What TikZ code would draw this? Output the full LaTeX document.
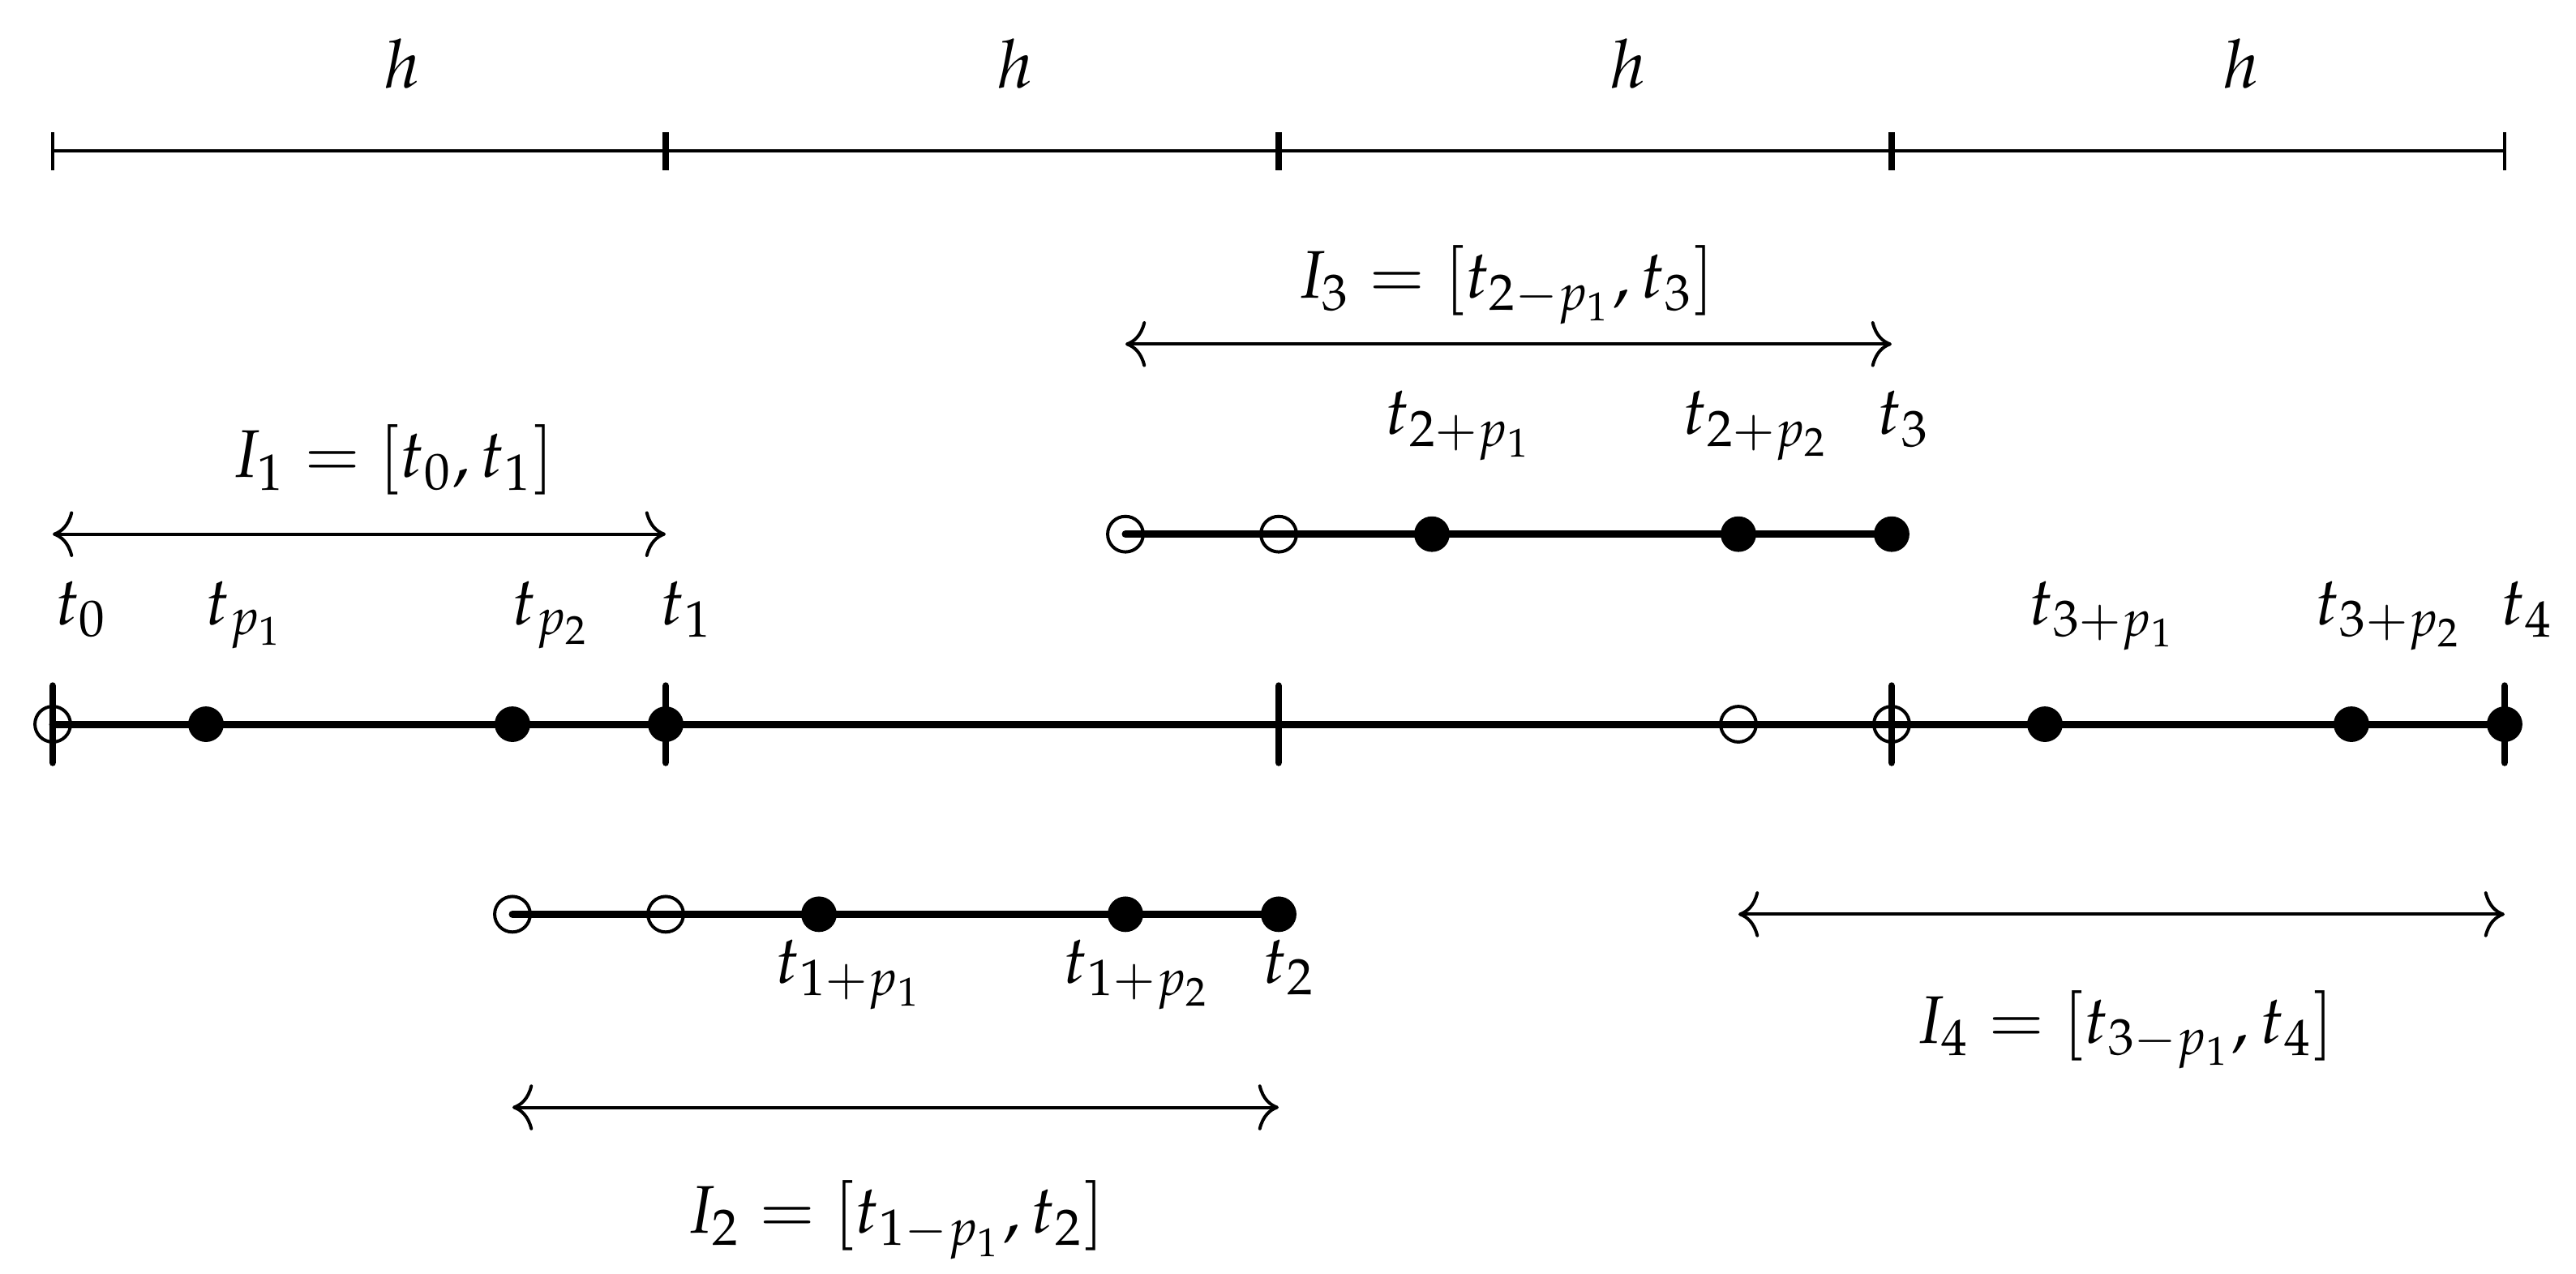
\documentclass[tikz,border=0pt]{standalone}
\usepackage{mathpazo}
\usetikzlibrary{arrows.meta}
\begin{document}
\begin{tikzpicture}[line cap=round,
		axis/.style={line width=1.35pt},
		tick/.style={line width=1.35pt},
		opendot/.style={line width=0.6pt},
		span/.style={line width=0.6pt,{To[length=3.8pt,width=8.5pt]}-{To[length=3.8pt,width=8.5pt]}},
		lab/.style={anchor=base west},
		ilab/.style={anchor=base}]
		\tikzstyle{every node}+=[inner sep=0pt,font=\fontsize{12.5}{15}\selectfont]
		\useasboundingbox (-0.344,-3.587) rectangle (16.466,4.725);
		% grid points of the main line
		\coordinate (t0) at (0,0);
		\coordinate (tp1) at (1,0);
		\coordinate (tp2) at (3,0);
		\coordinate (t1) at (4,0);
		\coordinate (t2) at (8,0);
		\coordinate (t3m) at (11,0);
		\coordinate (t3) at (12,0);
		\coordinate (t3p1) at (13,0);
		\coordinate (t3p2) at (15,0);
		\coordinate (t4) at (16,0);
		% step length bar
		\coordinate (h0) at (0,3.74);
		\coordinate (h1) at (4,3.74);
		\coordinate (h2) at (8,3.74);
		\coordinate (h3) at (12,3.74);
		\coordinate (h4) at (16,3.74);
		\draw [line width=0.6pt,line cap=butt] (h0) -- (h4);
		\draw [line width=0.6pt,line cap=butt] (h0) ++(0,-0.124) -- ++(0,0.248);
		\draw [line width=0.6pt,line cap=butt] (h4) ++(0,-0.124) -- ++(0,0.248);
		\draw [line width=1.3pt,line cap=butt] (h1) ++(0,-0.124) -- ++(0,0.248);
		\draw [line width=1.3pt,line cap=butt] (h2) ++(0,-0.124) -- ++(0,0.248);
		\draw [line width=1.3pt,line cap=butt] (h3) ++(0,-0.124) -- ++(0,0.248);
		\node (hl1) at (2.28,4.15) [ilab] {$h$};
		\node (hl2) at (6.28,4.15) [ilab] {$h$};
		\node (hl3) at (10.28,4.15) [ilab] {$h$};
		\node (hl4) at (14.28,4.15) [ilab] {$h$};
		% main line
		\draw [axis] (t0) -- (t4);
		\draw [tick] (t0) ++(0,-0.25) -- ++(0,0.5);
		\draw [tick] (t1) ++(0,-0.25) -- ++(0,0.5);
		\draw [tick] (t2) ++(0,-0.25) -- ++(0,0.5);
		\draw [tick] (t3) ++(0,-0.25) -- ++(0,0.5);
		\draw [tick] (t4) ++(0,-0.25) -- ++(0,0.5);
		\draw [opendot] (t0) circle (0.116);
		\fill (tp1) circle (0.116);
		\fill (tp2) circle (0.116);
		\fill (t1) circle (0.116);
		\draw [opendot] (t3m) circle (0.116);
		\draw [opendot] (t3) circle (0.116);
		\fill (t3p1) circle (0.116);
		\fill (t3p2) circle (0.116);
		\fill (t4) circle (0.116);
		\node (lt0) at (0.01,0.65) [lab] {$t_0$};
		\node (ltp1) at (0.99,0.65) [lab] {$t_{p_1}$};
		\node (ltp2) at (2.99,0.65) [lab] {$t_{p_2}$};
		\node (lt1) at (3.96,0.65) [lab] {$t_1$};
		\node (lt3p1) at (12.89,0.65) [lab] {$t_{3+p_1}$};
		\node (lt3p2) at (14.76,0.65) [lab] {$t_{3+p_2}$};
		\node (lt4) at (15.97,0.65) [lab] {$t_4$};
		% upper segment
		\coordinate (u0) at (7,1.24);
		\coordinate (u1) at (8,1.24);
		\coordinate (u2) at (9,1.24);
		\coordinate (u3) at (11,1.24);
		\coordinate (u4) at (12,1.24);
		\draw [axis] (u0) -- (u4);
		\draw [opendot] (u0) circle (0.116);
		\draw [opendot] (u1) circle (0.116);
		\fill (u2) circle (0.116);
		\fill (u3) circle (0.116);
		\fill (u4) circle (0.116);
		\node (lu2) at (8.69,1.89) [lab] {$t_{2+p_1}$};
		\node (lu3) at (10.63,1.89) [lab] {$t_{2+p_2}$};
		\node (lu4) at (11.90,1.89) [lab] {$t_3$};
		% lower segment
		\coordinate (d0) at (3,-1.24);
		\coordinate (d1) at (4,-1.24);
		\coordinate (d2) at (5,-1.24);
		\coordinate (d3) at (7,-1.24);
		\coordinate (d4) at (8,-1.24);
		\draw [axis] (d0) -- (d4);
		\draw [opendot] (d0) circle (0.116);
		\draw [opendot] (d1) circle (0.116);
		\fill (d2) circle (0.116);
		\fill (d3) circle (0.116);
		\fill (d4) circle (0.116);
		\node (ld2) at (4.71,-1.69) [lab] {$t_{1+p_1}$};
		\node (ld3) at (6.59,-1.69) [lab] {$t_{1+p_2}$};
		\node (ld4) at (7.89,-1.69) [lab] {$t_2$};
		% intervals
		\coordinate (a1l) at (0,1.24);
		\coordinate (a1r) at (4,1.24);
		\coordinate (a2l) at (3,-2.5);
		\coordinate (a2r) at (8,-2.5);
		\coordinate (a3l) at (7,2.48);
		\coordinate (a3r) at (12,2.48);
		\coordinate (a4l) at (11,-1.24);
		\coordinate (a4r) at (16,-1.24);
		\draw [span] (a1l) -- (a1r);
		\draw [span] (a2l) -- (a2r);
		\draw [span] (a3l) -- (a3r);
		\draw [span] (a4l) -- (a4r);
		\node (i1) at (2.22,1.61) [ilab] {$I_1=[t_0,t_1]$};
		\node (i2) at (5.50,-3.32) [ilab] {$I_2=[t_{1-p_1},t_2]$};
		\node (i3) at (9.48,2.78) [ilab] {$I_3=[t_{2-p_1},t_3]$};
		\node (i4) at (13.52,-2.08) [ilab] {$I_4=[t_{3-p_1},t_4]$};
	\end{tikzpicture}
\end{document}
